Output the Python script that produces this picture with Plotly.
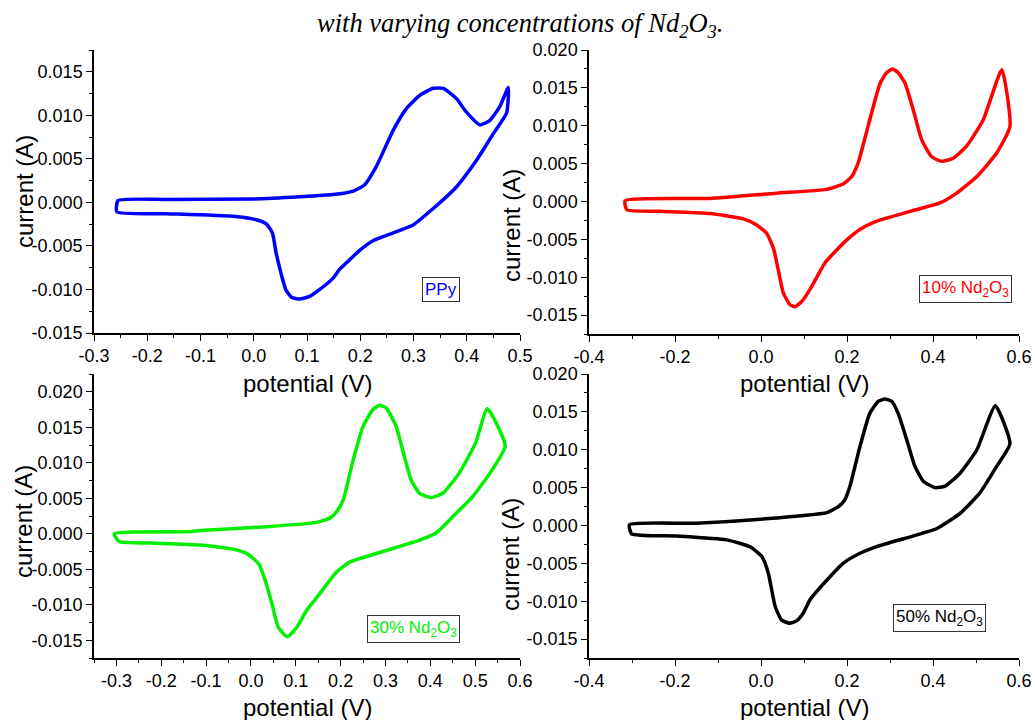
import plotly.graph_objects as go

# ---------------- data ----------------
ppy_v = [-0.255, -0.164, 0.000, 0.086, 0.149, 0.187, 0.208, 0.230, 0.262, 0.287, 0.312, 0.337, 0.356,
         0.381, 0.399, 0.425, 0.443, 0.462, 0.478, 0.475, 0.450, 0.418, 0.381, 0.337, 0.299, 0.262,
         0.224, 0.199, 0.180, 0.161, 0.149, 0.124, 0.105, 0.086, 0.071, 0.060, 0.051, 0.042, 0.035,
         0.024, 0.005, -0.039, -0.164, -0.257, -0.255]
ppy_i = [0.0002, 0.00034, 0.0004, 0.00065, 0.0009, 0.0013, 0.0020, 0.0041, 0.0083, 0.0108, 0.0123, 0.0131, 0.0131,
         0.0119, 0.0104, 0.0089, 0.0094, 0.0110, 0.0132, 0.0103, 0.0079, 0.0048, 0.0018, -0.0007, -0.0026, -0.0035,
         -0.0044, -0.0055, -0.0066, -0.0077, -0.0087, -0.0100, -0.0108, -0.0111, -0.0109, -0.0100, -0.0081, -0.0058, -0.0035,
         -0.0025, -0.0020, -0.0016, -0.0013, -0.0011, 0.0002]

nd10_v = [-0.316, -0.119, 0.036, 0.153, 0.191, 0.211, 0.226, 0.253, 0.277, 0.292, 0.306, 0.319, 0.335,
          0.354, 0.374, 0.397, 0.420, 0.447, 0.478, 0.517, 0.560, 0.579, 0.548, 0.502, 0.455, 0.416,
          0.347, 0.269, 0.230, 0.199, 0.176, 0.149, 0.114, 0.095, 0.079, 0.067, 0.052, 0.040, 0.029,
          0.013, -0.010, -0.041, -0.119, -0.235, -0.312, -0.316]
nd10_i = [0.0001, 0.0004, 0.0011, 0.0016, 0.0023, 0.0033, 0.0051, 0.0108, 0.0156, 0.0170, 0.0175, 0.0170, 0.0156,
          0.0121, 0.0081, 0.0059, 0.0053, 0.0057, 0.0073, 0.0108, 0.0174, 0.0099, 0.0064, 0.0033, 0.0011, -0.0002,
          -0.0013, -0.0026, -0.0037, -0.0051, -0.0064, -0.0081, -0.0116, -0.0132, -0.0139, -0.0136, -0.0121, -0.0090, -0.0062,
          -0.0042, -0.0031, -0.0023, -0.0016, -0.0013, -0.0011, 0.0001]

nd30_v = [-0.305, -0.135, -0.105, 0.036, 0.146, 0.176, 0.191, 0.206, 0.228, 0.250, 0.272, 0.287, 0.302,
          0.324, 0.342, 0.357, 0.376, 0.402, 0.428, 0.464, 0.501, 0.527, 0.567, 0.538, 0.494, 0.450,
          0.413, 0.376, 0.294, 0.220, 0.191, 0.154, 0.124, 0.102, 0.081, 0.061, 0.047, 0.032, 0.017,
          -0.009, -0.038, -0.112, -0.223, -0.294, -0.305]
nd30_i = [0.0000, 0.0003, 0.0005, 0.0010, 0.0016, 0.0022, 0.0031, 0.0048, 0.0104, 0.0151, 0.0175, 0.0181, 0.0177,
          0.0151, 0.0109, 0.0076, 0.0057, 0.0051, 0.0057, 0.0085, 0.0128, 0.0176, 0.0124, 0.0090, 0.0052, 0.0024,
          0.0001, -0.0009, -0.0025, -0.0040, -0.0054, -0.0084, -0.0108, -0.0132, -0.0145, -0.0132, -0.0099, -0.0066, -0.0042,
          -0.0028, -0.0022, -0.0016, -0.0013, -0.0011, 0.0000]

nd50_v = [-0.306, -0.150, 0.036, 0.153, 0.180, 0.195, 0.207, 0.230, 0.253, 0.273, 0.288, 0.304, 0.319,
          0.339, 0.358, 0.378, 0.405, 0.428, 0.463, 0.502, 0.545, 0.579, 0.548, 0.509, 0.463, 0.409,
          0.347, 0.269, 0.222, 0.191, 0.168, 0.114, 0.098, 0.083, 0.066, 0.048, 0.033, 0.017, 0.002,
          -0.026, -0.080, -0.196, -0.301, -0.306]
nd50_i = [0.0001, 0.0003, 0.0010, 0.0017, 0.0025, 0.0034, 0.0052, 0.0104, 0.0148, 0.0164, 0.0167, 0.0164, 0.0148,
          0.0113, 0.0078, 0.0058, 0.0050, 0.0052, 0.0069, 0.0100, 0.0158, 0.0108, 0.0078, 0.0043, 0.0016, -0.0004,
          -0.0015, -0.0028, -0.0039, -0.0050, -0.0063, -0.0098, -0.0116, -0.0126, -0.0129, -0.0125, -0.0107, -0.0063, -0.0041,
          -0.0028, -0.0019, -0.0014, -0.0011, 0.0001]

labels = ["PPy", "10% Nd<sub>2</sub>O<sub>3</sub>", "30% Nd<sub>2</sub>O<sub>3</sub>", "50% Nd<sub>2</sub>O<sub>3</sub>"]
colors = ["#0000FF", "#FF0000", "#00F000", "#000000"]

x1_ticks = [-0.3, -0.2, -0.1, 0.0, 0.1, 0.2, 0.3, 0.4, 0.5]
x1_text = ["-0.3", "-0.2", "-0.1", "0.0", "0.1", "0.2", "0.3", "0.4", "0.5"]
x2_ticks = [-0.4, -0.2, 0.0, 0.2, 0.4, 0.6]
x2_text = ["-0.4", "-0.2", "0.0", "0.2", "0.4", "0.6"]
x3_ticks = [-0.3, -0.2, -0.1, 0.0, 0.1, 0.2, 0.3, 0.4, 0.5, 0.6]
x3_text = ["-0.3", "-0.2", "-0.1", "0.0", "0.1", "0.2", "0.3", "0.4", "0.5", "0.6"]
y1_ticks = [-0.015, -0.010, -0.005, 0.0, 0.005, 0.010, 0.015]
y1_text = ["-0.015", "-0.010", "-0.005", "0.000", "0.005", "0.010", "0.015"]
y2_ticks = [-0.015, -0.010, -0.005, 0.0, 0.005, 0.010, 0.015, 0.020]
y2_text = ["-0.015", "-0.010", "-0.005", "0.000", "0.005", "0.010", "0.015", "0.020"]

title_text = "<i>with varying concentrations of Nd<sub>2</sub>O<sub>3</sub>.</i>"
x_title = "potential (V)"
y_title = "current (A)"

# ---------------- figure ----------------
W, H = 1035, 720
fig = go.Figure()

series = [(ppy_v, ppy_i), (nd10_v, nd10_i), (nd30_v, nd30_i), (nd50_v, nd50_i)]
for k, (v, i) in enumerate(series):
    ax = "" if k == 0 else str(k + 1)
    fig.add_trace(go.Scatter(x=v, y=i, mode="lines", xaxis="x" + ax, yaxis="y" + ax,
                             line=dict(color=colors[k], width=3.5, shape="spline", smoothing=0.5),
                             showlegend=False, hoverinfo="skip"))

def px_x(p):
    return p / W

def px_y(p):
    return 1 - p / H

tickfont = dict(family="Liberation Sans, Arial, sans-serif", size=18, color="#000")

def xax(domain, rng, tv, tt, dtick_minor, anchor):
    return dict(domain=domain, range=rng, tickvals=tv, ticktext=tt, ticks="outside", ticklen=6,
                tickwidth=1.2, tickcolor="#000", showline=True, linecolor="#000", linewidth=1.5,
                showgrid=False, zeroline=False, tickfont=tickfont, anchor=anchor, automargin=False,
                minor=dict(dtick=dtick_minor, ticks="outside", ticklen=3, tickcolor="#000",
                           tickwidth=1, showgrid=False, tick0=0))

def yax(domain, rng, tv, tt, anchor):
    return dict(domain=domain, range=rng, tickvals=tv, ticktext=tt, ticks="outside", ticklen=6,
                tickwidth=1.2, tickcolor="#000", showline=True, linecolor="#000", linewidth=1.5,
                showgrid=False, zeroline=False, tickfont=tickfont, anchor=anchor, automargin=False,
                minor=dict(dtick=0.0025, ticks="outside", ticklen=3, tickcolor="#000",
                           tickwidth=1, showgrid=False, tick0=0))

left_dom = [px_x(94), px_x(520)]
right_dom = [px_x(589), px_x(1019)]
top1_dom = [px_y(333), px_y(50)]
top2_dom = [px_y(334), px_y(50)]
bot_dom = [px_y(658), px_y(374)]

fig.update_layout(
    width=W, height=H, margin=dict(l=0, r=0, t=0, b=0, pad=0), autosize=False,
    paper_bgcolor="white", plot_bgcolor="white",
    xaxis=xax(left_dom, [-0.3, 0.5], x1_ticks, x1_text, 0.05, "y"),
    yaxis=yax(top1_dom, [-0.015, 0.0175], y1_ticks, y1_text, "x"),
    xaxis2=xax(right_dom, [-0.4, 0.6], x2_ticks, x2_text, 0.1, "y2"),
    yaxis2=yax(top2_dom, [-0.0175, 0.020], y2_ticks, y2_text, "x2"),
    xaxis3=xax(left_dom, [-0.35, 0.6], x3_ticks, x3_text, 0.05, "y3"),
    yaxis3=yax(bot_dom, [-0.0175, 0.0225], y2_ticks, y2_text, "x3"),
    xaxis4=xax(right_dom, [-0.4, 0.6], x2_ticks, x2_text, 0.1, "y4"),
    yaxis4=yax(bot_dom, [-0.0175, 0.020], y2_ticks, y2_text, "x4"),
)

annots = []
titlefont = dict(family="Liberation Sans, Arial, sans-serif", size=24, color="#000")
annots.append(dict(text=title_text, x=px_x(520), y=px_y(25), xref="paper", yref="paper",
                   showarrow=False, xanchor="center", yanchor="middle",
                   font=dict(family="Liberation Serif, Times New Roman, serif", size=26.5, color="#000")))
for cx, cy in [(307, 383), (804, 383), (307, 707), (804, 707)]:
    annots.append(dict(text=x_title, x=px_x(cx), y=px_y(cy), xref="paper", yref="paper",
                       showarrow=False, xanchor="center", yanchor="middle", font=titlefont))
for cx, cy in [(25, 192), (511, 226), (23, 522), (510, 555)]:
    annots.append(dict(text=y_title, x=px_x(cx), y=px_y(cy), xref="paper", yref="paper",
                       showarrow=False, xanchor="center", yanchor="middle", textangle=-90,
                       font=titlefont))
for k, (cx, cy) in enumerate([(441, 289), (965.5, 288.5), (413.5, 628.5), (939.5, 618)]):
    annots.append(dict(text=labels[k], x=px_x(cx), y=px_y(cy), xref="paper", yref="paper",
                       showarrow=False, xanchor="center", yanchor="middle",
                       bordercolor="#333", borderwidth=1, borderpad=2, bgcolor="white",
                       font=dict(family="Liberation Sans, Arial, sans-serif", size=17,
                                 color=colors[k])))
fig.update_layout(annotations=annots)

fig.write_html("out.html", config={"displayModeBar": False, "responsive": False},
               post_script="document.body.style.margin='0';document.body.style.padding='0';")
